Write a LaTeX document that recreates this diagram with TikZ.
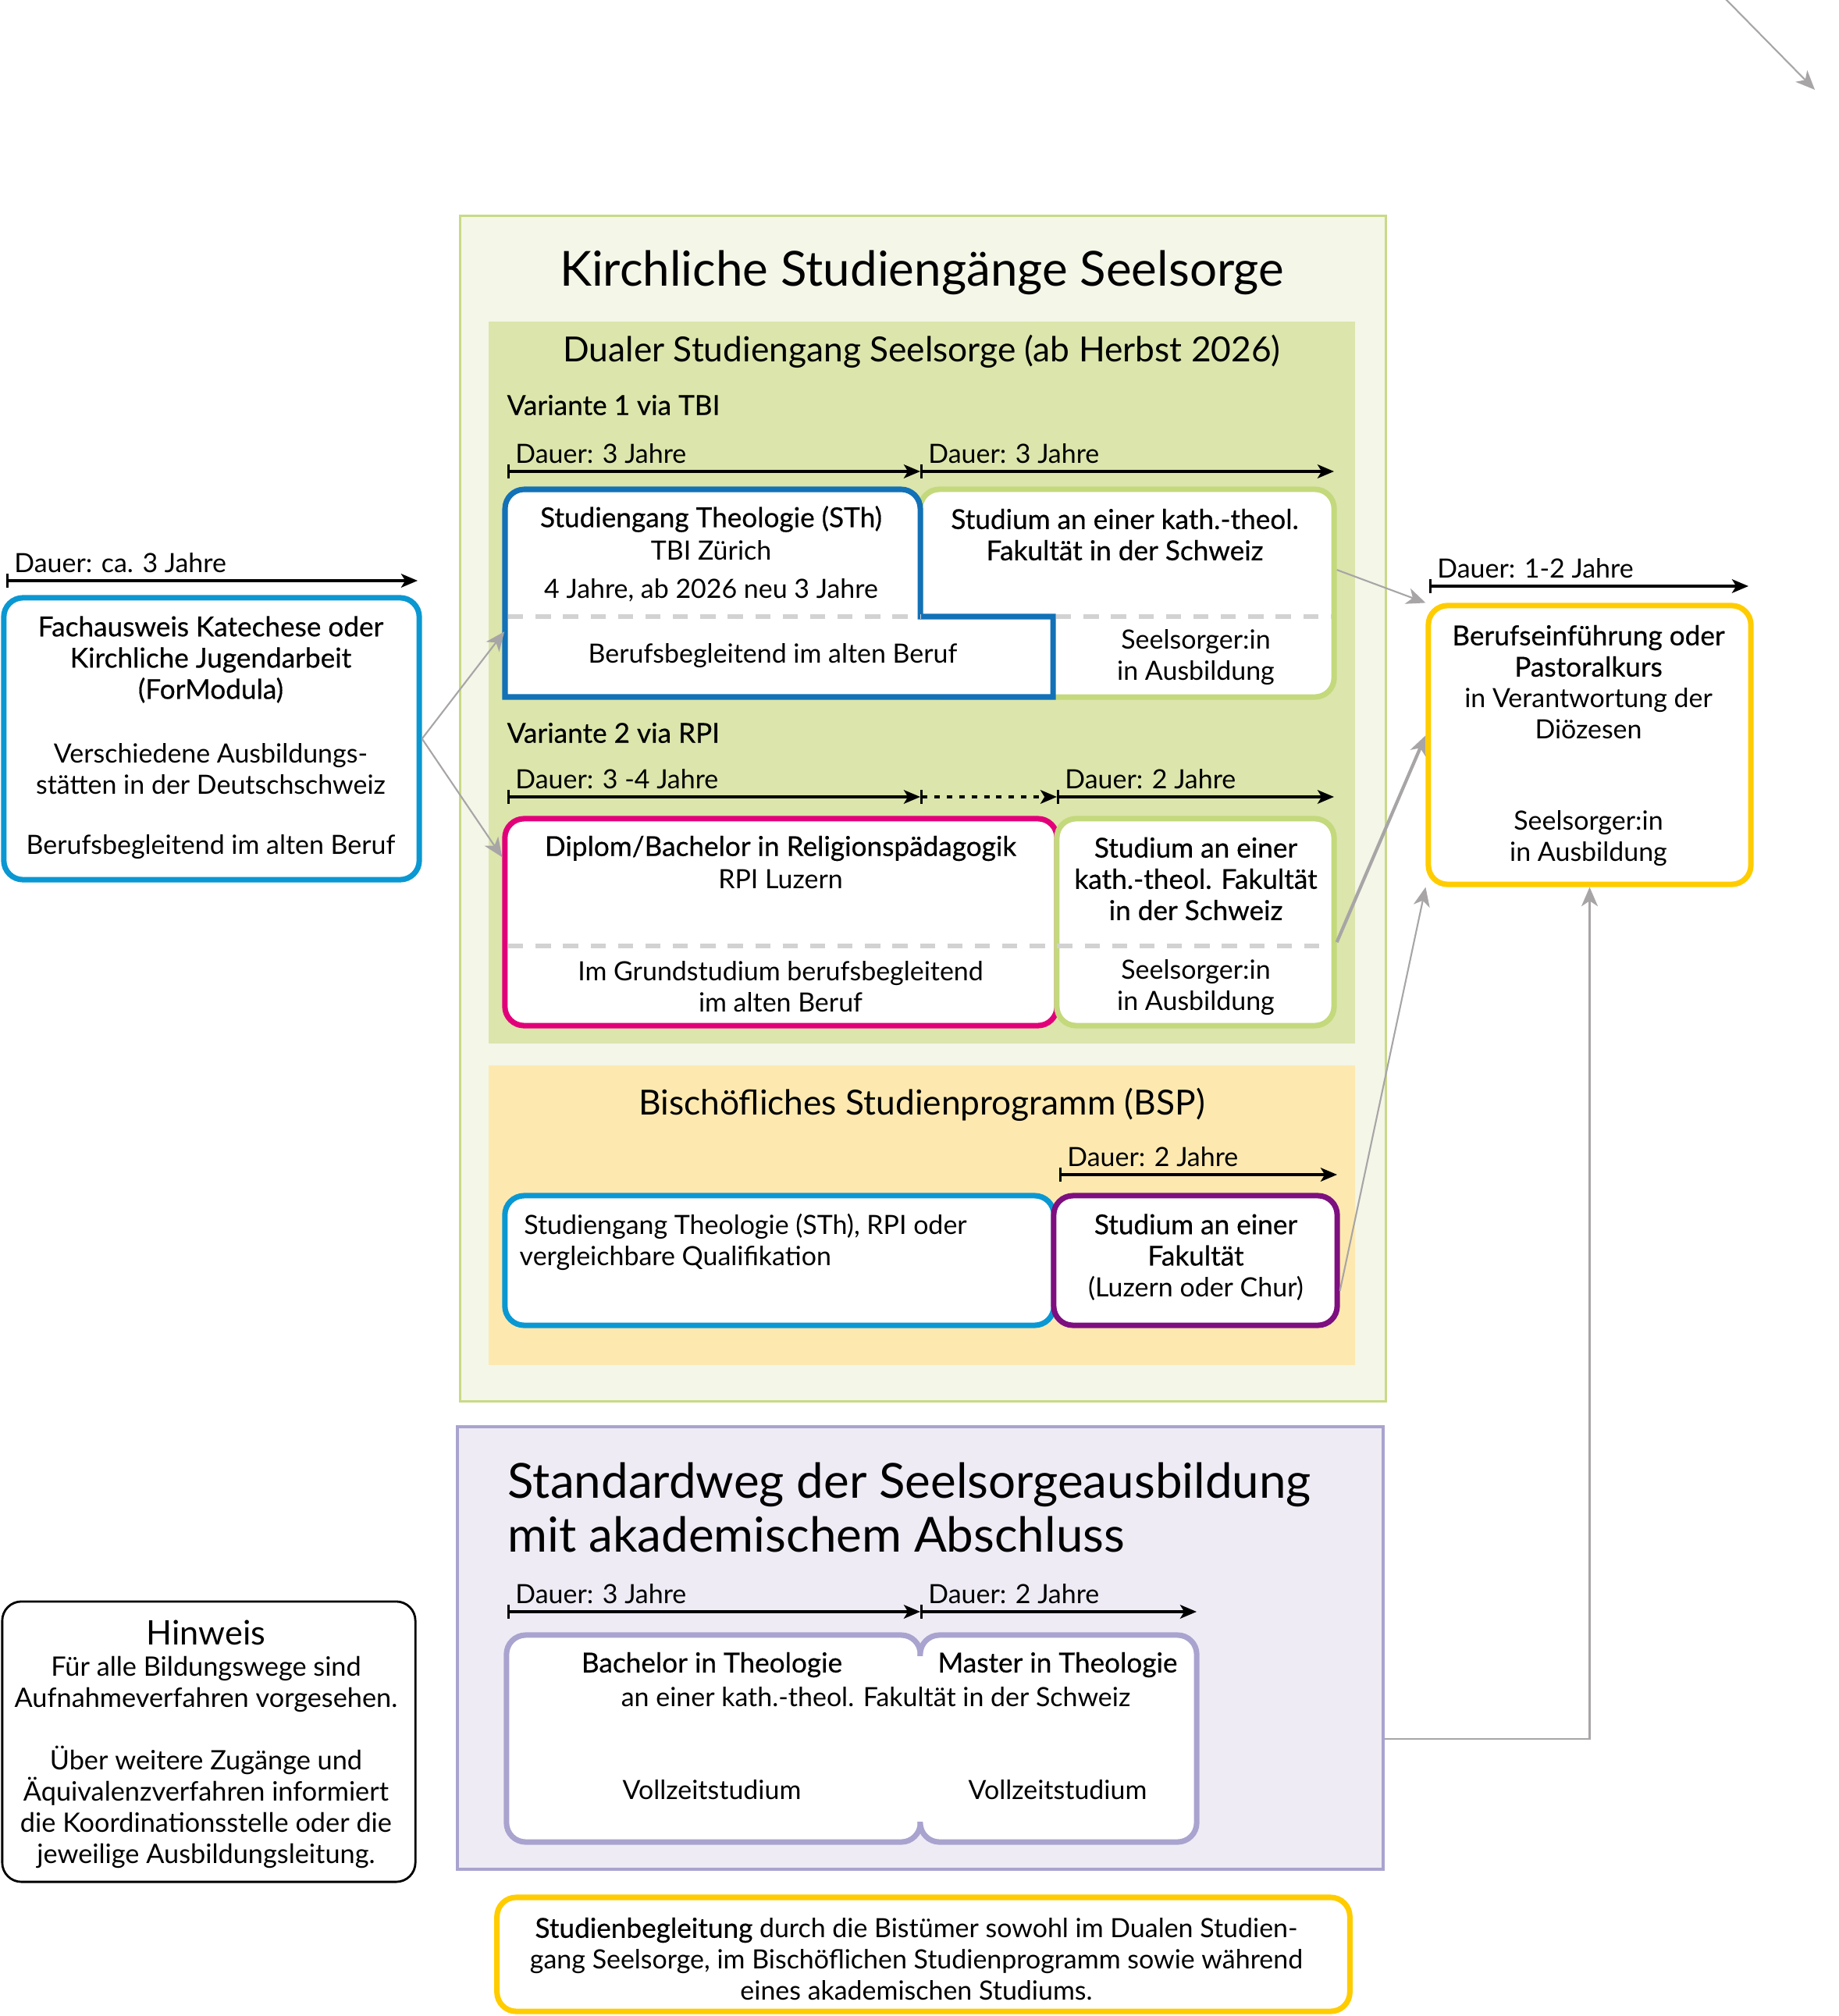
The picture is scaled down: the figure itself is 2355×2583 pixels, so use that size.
\documentclass[tikz,border=0pt]{standalone}
\usepackage{fontspec}
\setmainfont{Lato}
\newfontfamily\medfont{Lato}[FakeBold=0.5]
\newcommand{\mittel}{\fontsize{10pt}{11.4pt}\medfont}
\usepackage{xcolor}
\usepackage{tikz}
\usetikzlibrary{arrows.meta,positioning,calc}
\definecolor{kgruenfill}{HTML}{F4F6E8}
\definecolor{kgruenlinie}{HTML}{C8DA86}
\definecolor{dualfill}{HTML}{DCE5AB}
\definecolor{boxgruen}{HTML}{C3D97C}
\definecolor{tbiblau}{HTML}{1271B7}
\definecolor{hellblau}{HTML}{0A98D3}
\definecolor{rpipink}{HTML}{E2007A}
\definecolor{fakviolett}{HTML}{7D0F80}
\definecolor{bspfill}{HTML}{FDE9B0}
\definecolor{lavfill}{HTML}{EEEBF5}
\definecolor{lavlinie}{HTML}{A9A3CF}
\definecolor{gelb}{HTML}{FFCC00}
\definecolor{pfeilgrau}{HTML}{A8A5A6}
\definecolor{strichgrau}{HTML}{D2D2D2}

\begin{document}
\begin{tikzpicture}[
  x=0.01cm, y=-0.01cm,
  font=\fontsize{9.65pt}{11.4pt}\selectfont,
  box/.style={draw, line width=2pt, rounded corners=7pt, fill=white, inner sep=0pt},
  panel/.style={inner sep=0pt},
  txt/.style={align=center, inner sep=0pt},
  mtxt/.style={align=center, inner sep=0pt, font=\mittel},
  titel/.style={inner sep=0pt, font=\fontsize{17.6pt}{19.6pt}\selectfont},
  untertitel/.style={inner sep=0pt, font=\fontsize{12.6pt}{14pt}\selectfont},
  dauer/.style={{Bar[width=5pt]}-{Stealth[length=6pt,width=5pt,inset=1.5pt]}, line width=0.9pt},
  dlabel/.style={anchor=base west, inner sep=0pt, xshift=2.5pt, yshift=3pt},
  link/.style={-{Stealth[length=7pt,width=6pt,inset=2pt]}, pfeilgrau, line width=0.6pt},
  trenn/.style={strichgrau, line width=1.5pt, dash pattern=on 5.5pt off 4.5pt}
]
\useasboundingbox (0,0) rectangle (2355,2583);

% Hintergruende
\node[panel, draw=kgruenlinie, line width=1pt, fill=kgruenfill, minimum width=11.85cm, minimum height=15.18cm] (kirch) at (1182.5,1036) {};
\node[panel, fill=dualfill, minimum width=11.10cm, minimum height=9.25cm] (dual) at (1181,874.5) {};
\node[panel, fill=bspfill, minimum width=11.10cm, minimum height=3.84cm] (bsp) at (1181,1557) {};
\node[panel, draw=lavlinie, line width=1.2pt, fill=lavfill, minimum width=11.86cm, minimum height=5.67cm] (standard) at (1179,2111.5) {};

\node[titel] at (1181,349) {Kirchliche Studiengänge Seelsorge};
\node[untertitel] at (1181,450) {Dualer Studiengang Seelsorge (ab Herbst 2026)};
\node[untertitel] at (1181,1415) {Bischöfliches Studienprogramm (BSP)};
\node[titel, anchor=west, align=left] at (650,1931) {Standardweg der Seelsorgeausbildung\\mit akademischem Abschluss};

% Variante 1
\node[mtxt, anchor=west] at (649,519) {Variante 1 via TBI};
\coordinate (v1a) at (650,604);
\coordinate (v1b) at (1179,604);
\coordinate (v1c) at (1709,604);
\draw[dauer] (v1a) -- node[dlabel, at start] {Dauer: 3 Jahre} (v1b);
\draw[dauer] (v1b) -- node[dlabel, at start] {Dauer: 3 Jahre} (v1c);

\node[box, draw=boxgruen, minimum width=5.30cm, minimum height=2.66cm] (fak1) at (1444,760) {};
\node[panel, minimum width=5.32cm, minimum height=2.66cm] (sth) at (913,760) {};
\draw[tbiblau, line width=2pt, fill=white] (1179,700) -- (1179,790) -- (1349,790) -- (1349,893) -- (647,893)
  [rounded corners=7pt] -- (647,627) -- (1179,627) -- (1179,700);
\draw[trenn] (651,790) -- (1179,790);
\draw[trenn] (1353,790) -- (1706,790);

\node[mtxt] at (911,665) {Studiengang Theologie (STh)};
\node[txt] at (911,705) {TBI Zürich};
\node[txt] at (911,756) {4 Jahre, ab 2026 neu 3 Jahre};
\node[txt] at (990,840) {Berufsbegleitend im alten Beruf};
\node[mtxt] at (1441,685) {Studium an einer kath.-theol.\\Fakultät in der Schweiz};
\node[txt] at (1532,842) {Seelsorger:in\\in Ausbildung};

% Variante 2
\node[mtxt, anchor=west] at (649,939) {Variante 2 via RPI};
\coordinate (v2a) at (650,1021);
\coordinate (v2b) at (1179,1021);
\coordinate (v2c) at (1354,1021);
\coordinate (v2d) at (1709,1021);
\draw[dauer] (v2a) -- node[dlabel, at start] {Dauer: 3 -4 Jahre} (v2b);
\draw[dauer, dash pattern=on 2pt off 2.5pt] (v2b) -- (v2c);
\draw[dauer] (v2c) -- node[dlabel, at start] {Dauer: 2 Jahre} (v2d);

\node[box, draw=rpipink, minimum width=7.07cm, minimum height=2.65cm] (rpi) at (1000.5,1181.5) {};
\node[box, draw=boxgruen, minimum width=3.55cm, minimum height=2.65cm] (fak2) at (1531.5,1181.5) {};
\draw[trenn] (651,1212) -- (1706,1212);

\node[mtxt] at (1000,1087) {Diplom/Bachelor in Religionspädagogik};
\node[txt] at (1000,1126) {RPI Luzern};
\node[txt] at (1000,1264) {Im Grundstudium berufsbegleitend\\im alten Beruf};
\node[mtxt] at (1532,1126) {Studium an einer\\kath.-theol. Fakultät\\in der Schweiz};
\node[txt] at (1532,1265) {Seelsorger:in\\in Ausbildung};

% BSP
\coordinate (bspa) at (1357,1505);
\coordinate (bspb) at (1713,1505);
\draw[dauer] (bspa) -- node[dlabel, at start] {Dauer: 2 Jahre} (bspb);
\node[box, draw=hellblau, minimum width=7.03cm, minimum height=1.66cm] (quali) at (998.5,1615) {};
\node[box, draw=fakviolett, minimum width=3.63cm, minimum height=1.66cm] (fak3) at (1531.5,1615) {};
\node[txt, align=left, anchor=west] at (665,1591) {\,Studiengang Theologie (STh), RPI oder\\vergleichbare Qualifikation};
\node[txt] at (1532,1611) {{\mittel Studium an einer}\\{\mittel Fakultät}\\(Luzern oder Chur)};

% Zugang links
\coordinate (fa) at (8,744);
\coordinate (fb) at (535,744);
\draw[dauer] (fa) -- node[dlabel, at start] {Dauer: ca. 3 Jahre} (fb);
\node[box, draw=hellblau, minimum width=5.32cm, minimum height=3.61cm] (fach) at (271,946.5) {};
\node[mtxt] at (270,845) {Fachausweis Katechese oder\\Kirchliche Jugendarbeit\\(ForModula)};
\node[txt] at (270,985) {Verschiedene Ausbildungs-\\stätten in der Deutschschweiz};
\node[txt] at (270,1085) {Berufsbegleitend im alten Beruf};

% Berufseinfuehrung
\coordinate (ba) at (1831,751);
\coordinate (bb) at (2240,751);
\draw[dauer] (ba) -- node[dlabel, at start] {Dauer: 1-2 Jahre} (bb);
\node[box, draw=gelb, minimum width=4.13cm, minimum height=3.57cm] (beruf) at (2036.5,954.5) {};
\node[mtxt] at (2035,834) {Berufseinführung oder\\Pastoralkurs};
\node[txt] at (2035,914) {in Verantwortung der\\Diözesen};
\node[txt] at (2035,1074) {Seelsorger:in\\in Ausbildung};

% Standardweg
\coordinate (sa) at (650,2065);
\coordinate (sb) at (1179,2065);
\coordinate (sc) at (1533,2065);
\draw[dauer] (sa) -- node[dlabel, at start] {Dauer: 3 Jahre} (sb);
\draw[dauer] (sb) -- node[dlabel, at start] {Dauer: 2 Jahre} (sc);
\node[box, draw=lavlinie, minimum width=5.30cm, minimum height=2.65cm] (bachelor) at (914,2227.5) {};
\node[box, draw=lavlinie, minimum width=3.54cm, minimum height=2.65cm] (master) at (1356,2227.5) {};
\fill[white] (1170,2122) rectangle (1188,2334);
\node[mtxt] at (912,2133) {Bachelor in Theologie};
\node[mtxt] at (1355,2133) {Master in Theologie};
\node[txt] at (1122,2174) {an einer kath.-theol. Fakultät in der Schweiz};
\node[txt] at (912,2293) {Vollzeitstudium};
\node[txt] at (1355,2293) {Vollzeitstudium};

% Hinweis und Studienbegleitung
\node[box, draw=black, line width=0.8pt, minimum width=5.29cm, minimum height=3.59cm] (hinweis) at (267.5,2231.5) {};
\node[txt, font=\fontsize{12.3pt}{14pt}\selectfont] at (264,2092) {Hinweis};
\node[txt, font=\fontsize{9.75pt}{11.4pt}\selectfont] at (264,2258) {Für alle Bildungswege sind\\Aufnahmeverfahren vorgesehen.\\[11.4pt]Über weitere Zugänge und\\Äquivalenzverfahren informiert\\die Koordinationsstelle oder die\\jeweilige Ausbildungsleitung.};
\node[box, draw=gelb, minimum width=10.92cm, minimum height=1.46cm] (begleit) at (1183,2504) {};
\node[txt] at (1174,2510) {{\mittel Studienbegleitung} durch die Bistümer sowohl im Dualen Studien-\\gang Seelsorge, im Bischöflichen Studienprogramm sowie während\\eines akademischen Studiums.};

% Verbindungen
\draw[link] (fach.east) -- ([yshift=-14pt]sth.west);
\draw[link] (fach.east) -- ([yshift=23.7pt]rpi.west);
\draw[link] ([yshift=8.5pt]fak1.east) -- (beruf.north west);
\draw[link, line width=1.2pt] ([yshift=-7.3pt]fak2.east) -- ([yshift=3.5pt]beruf.west);
\draw[link] ([yshift=-11pt]fak3.east) -- (beruf.south west);
\draw[link] ([yshift=-33pt]standard.east) -| (beruf.south);
\coordinate (streuA) at (2207,-5);
\coordinate (streuB) at (2325,115);
\draw[link] (streuA) -- (streuB);
\end{tikzpicture}
\end{document}
